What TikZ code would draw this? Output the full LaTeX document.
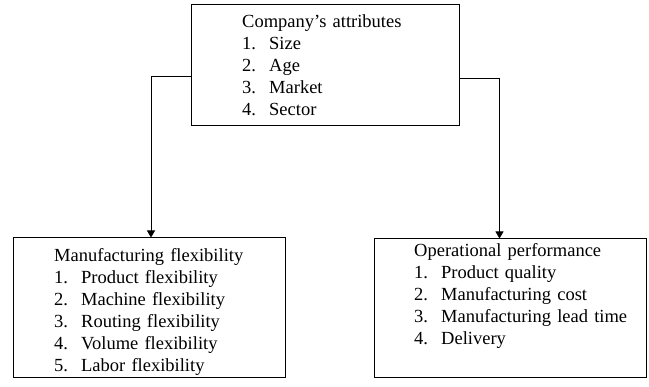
\documentclass[tikz,border=0pt]{standalone}
\usepackage{fontspec}
\setmainfont{Liberation Serif}
\usetikzlibrary{
	arrows.meta,
	positioning
}
\tikzset{
	x=1pt,
	y=-1pt,
	box/.style={
		draw,
		line width=1pt,
		minimum width=272pt,
		minimum height=140pt,
		inner sep=0pt
	},
	boxtext/.style={
		anchor=base west,
		inner sep=0pt,
		text width=240pt,
		align=left,
		font=\fontsize{18.5}{22}\selectfont
	},
	link/.style={
		line width=1pt,
		-{Triangle[width=8pt,length=7pt]}
	}
}
\newcommand{\numitem}[2]{\makebox[27pt][l]{#1}#2}

\begin{document}
\begin{tikzpicture}
	\useasboundingbox (0,0) rectangle (649,387);
	\draw
		node [box,minimum width=268pt,minimum height=121pt] (attr)  at (325,65.5)  {}
		node [box]                                         (mflex) at (149,308)   {}
		node [box,minimum height=139pt]                    (perf)  at (510,308.5) {}

		node [boxtext] (attr-list) at (242,28) {Company's attributes\\
			\numitem{1.}{Size}\\
			\numitem{2.}{Age}\\
			\numitem{3.}{Market}\\
			\numitem{4.}{Sector}}
		node [boxtext] (mflex-list) at (54,261.5) {Manufacturing flexibility\\
			\numitem{1.}{Product flexibility}\\
			\numitem{2.}{Machine flexibility}\\
			\numitem{3.}{Routing flexibility}\\
			\numitem{4.}{Volume flexibility}\\
			\numitem{5.}{Labor flexibility}}
		node [boxtext] (perf-list) at (414,257) {Operational performance\\
			\numitem{1.}{Product quality}\\
			\numitem{2.}{Manufacturing cost}\\
			\numitem{3.}{Manufacturing lead time}\\
			\numitem{4.}{Delivery}}
	;
	\draw [link] ([yshift=-11.5pt]attr.west) -| ([xshift=2pt]mflex.north);
	\draw [link] ([yshift=-13.5pt]attr.east) -| ([xshift=-10.5pt]perf.north);
\end{tikzpicture}
\end{document}
